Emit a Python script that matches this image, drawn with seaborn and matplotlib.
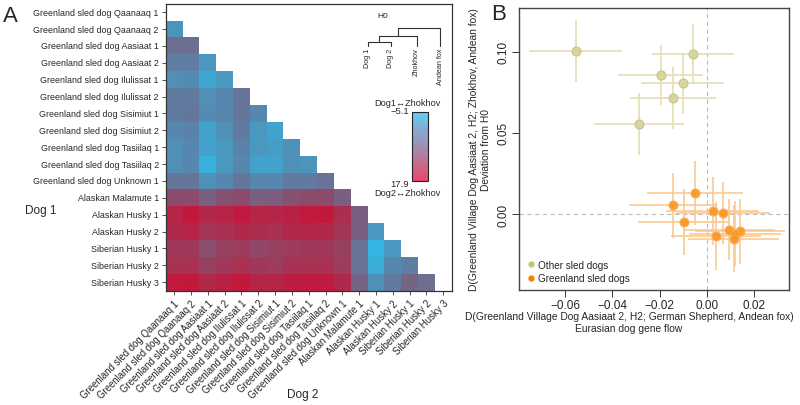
import numpy as np
import pandas as pd
import matplotlib
matplotlib.use("Agg")
import matplotlib.pyplot as plt
import seaborn as sns
from matplotlib.colors import LinearSegmentedColormap, Normalize
from matplotlib.cm import ScalarMappable
from matplotlib.lines import Line2D

# ---------------- data ----------------
dogs = [
    "Greenland sled dog Qaanaaq 1", "Greenland sled dog Qaanaaq 2",
    "Greenland sled dog Aasiaat 1", "Greenland sled dog Aasiaat 2",
    "Greenland sled dog Ilulissat 1", "Greenland sled dog Ilulissat 2",
    "Greenland sled dog Sisimiut 1", "Greenland sled dog Sisimiut 2",
    "Greenland sled dog Tasiilaq 1", "Greenland sled dog Tasiilaq 2",
    "Greenland sled dog Unknown 1", "Alaskan Malamute 1",
    "Alaskan Husky 1", "Alaskan Husky 2",
    "Siberian Husky 1", "Siberian Husky 2", "Siberian Husky 3",
]

# lower-triangle D values (row = Dog 1, columns = Dog 2 before it)
row_qaanaaq1 = []
row_qaanaaq2 = [-1.5]
row_aasiaat1 = [3.0, 3.0]
row_aasiaat2 = [1.0, 1.0, -2.0]
row_ilulissat1 = [-1.0, -0.5, -3.5, -2.0]
row_ilulissat2 = [1.5, 1.5, -1.0, 0.0, 2.5]
row_sisimiut1 = [1.5, 2.0, -0.5, 0.0, 2.0, 0.0]
row_sisimiut2 = [0.0, 0.5, -3.0, -1.0, 1.5, -2.0, -3.0]
row_tasiilaq1 = [-1.0, 0.0, -3.0, -2.0, 0.5, -2.0, -2.5, -1.0]
row_tasiilaq2 = [-1.0, 0.0, -4.5, -2.0, 0.0, -3.0, -3.0, -1.0, -1.5]
row_unknown1 = [2.0, 2.0, -1.0, 0.0, 2.0, 0.0, 0.0, 1.5, 1.5, 2.5]
row_malamute1 = [8.0, 8.0, 5.0, 7.0, 8.0, 5.0, 5.5, 7.0, 8.0, 8.0, 5.0]
row_akhusky1 = [15.0, 17.5, 14.0, 15.0, 17.0, 15.0, 14.5, 15.5, 17.0, 17.5, 13.0, 5.0]
row_akhusky2 = [14.0, 15.0, 11.5, 12.5, 14.0, 13.0, 12.5, 14.0, 14.5, 14.0, 11.5, 5.0, -2.0]
row_sibhusky1 = [11.0, 11.0, 7.5, 9.5, 10.5, 8.5, 9.5, 10.5, 11.0, 11.0, 9.5, 2.5, -5.0, -2.0]
row_sibhusky2 = [12.5, 12.5, 9.5, 11.0, 12.5, 11.0, 10.5, 12.0, 12.5, 12.5, 10.5, 2.5, -4.0, 0.0, 1.0]
row_sibhusky3 = [17.0, 17.5, 14.0, 15.5, 17.5, 15.0, 14.5, 16.5, 17.0, 17.0, 14.0, 4.5, -1.0, 1.5, 4.5, 3.0]

tri_rows = [row_qaanaaq1, row_qaanaaq2, row_aasiaat1, row_aasiaat2,
            row_ilulissat1, row_ilulissat2, row_sisimiut1, row_sisimiut2,
            row_tasiilaq1, row_tasiilaq2, row_unknown1, row_malamute1,
            row_akhusky1, row_akhusky2, row_sibhusky1, row_sibhusky2,
            row_sibhusky3]
d_min, d_max = -5.1, 17.9

# panel B
other_x = [-0.0555, -0.0059, -0.0196, -0.0103, -0.0144, -0.0288]
other_y = [0.1004, 0.0984, 0.0859, 0.0804, 0.0713, 0.0555]
other_xerr = [0.0197, 0.0174, 0.0179, 0.0175, 0.0182, 0.0190]
other_yerr = [0.0190, 0.0184, 0.0185, 0.0190, 0.0192, 0.0193]

green_x = [-0.0049, -0.0144, 0.0024, 0.0068, -0.0097, 0.0093, 0.0138, 0.0118, 0.0039, 0.0113]
green_y = [0.0129, 0.0055, 0.0020, 0.0006, -0.0049, -0.0096, -0.0105, -0.0121, -0.0133, -0.0152]
green_xerr = [0.0203, 0.0186, 0.0196, 0.0197, 0.0195, 0.0195, 0.0190, 0.0195, 0.0190, 0.0192]
green_yerr = [0.0195, 0.0200, 0.0210, 0.0190, 0.0205, 0.0190, 0.0200, 0.0200, 0.0210, 0.0205]

xticks_b = [-0.06, -0.04, -0.02, 0.00, 0.02]
xticklabels_b = ["\u22120.06", "\u22120.04", "\u22120.02", "0.00", "0.02"]
yticks_b = [0.00, 0.05, 0.10]
yticklabels_b = ["0.00", "0.05", "0.10"]

# ---------------- style ----------------
sns.set_style("ticks")
plt.rcParams["font.family"] = ["Liberation Sans", "DejaVu Sans"]
plt.rcParams["axes.edgecolor"] = "#333333"

W, H = 800, 406
fig = plt.figure(figsize=(W / 100, H / 100), dpi=100)


def fx(px):
    return px / W


def fy(py):
    return 1 - py / H


# ---------------- panel A heatmap ----------------
n = len(dogs)
M = np.full((n, n), np.nan)
for i, r in enumerate(tri_rows):
    M[i, :len(r)] = r
df = pd.DataFrame(M, index=dogs, columns=dogs)
mask = np.isnan(M)

cmap = LinearSegmentedColormap.from_list(
    "dz",
    [(0.0, "#33B6E2"), (0.135, "#4A98C0"), (0.265, "#5E7EA4"),
     (0.44, "#7A6080"), (0.613, "#944464"), (0.787, "#AC2E4E"),
     (1.0, "#C4163A")])

axA = fig.add_axes([fx(165.7), fy(291.7), fx(451.7 - 165.7), (291.7 - 4.7) / H])
sns.heatmap(df, mask=mask, cmap=cmap, vmin=d_min, vmax=d_max, cbar=False,
            ax=axA, xticklabels=dogs, yticklabels=dogs, linewidths=0)
for s in axA.spines.values():
    s.set_visible(True)
    s.set_linewidth(0.9)
    s.set_color("#333333")
axA.set_xlabel("")
axA.set_ylabel("")
axA.tick_params(axis="both", length=3, width=0.6, color="#333333",
                labelsize=6.4, pad=2, bottom=True, left=True)
axA.set_yticklabels(dogs, rotation=0, fontsize=6.4)
axA.set_xticklabels(dogs, rotation=45, ha="right", va="top",
                    rotation_mode="anchor", fontsize=6.9)

# overlay for annotations in pixel coordinates
ov = fig.add_axes([0, 0, 1, 1], zorder=10)
ov.set_xlim(0, W)
ov.set_ylim(H, 0)
ov.axis("off")
ov.patch.set_alpha(0)

ov.text(3, 17, "A", fontsize=16, ha="left", va="center")
ov.text(499, 15, "B", fontsize=16, ha="center", va="center")
ov.text(41, 211, "Dog 1", fontsize=8.5, ha="center", va="center")
ov.text(303, 395, "Dog 2", fontsize=8.5, ha="center", va="center")

# tree H0
tc = "#333333"
lw = 0.8
tip_y = 46.5
d1x, d2x, zx, fxp = 367.7, 390.7, 416.7, 440.0
j1y, j2y, j3y = 43.3, 36.7, 29.0
m1 = (d1x + d2x) / 2
m2 = (m1 + zx) / 2
ov.plot([d1x, d1x, d2x, d2x], [tip_y, j1y, j1y, tip_y], color=tc, lw=lw)
ov.plot([m1, m1], [j1y, j2y], color=tc, lw=lw)
ov.plot([m1, zx, zx], [j2y, j2y, tip_y], color=tc, lw=lw)
ov.plot([m2, m2], [j2y, j3y], color=tc, lw=lw)
ov.plot([m2, fxp, fxp], [j3y, j3y, tip_y], color=tc, lw=lw)
ov.text(383, 17, "H0", fontsize=6, ha="center", va="center")
for xx, lab in [(d1x, "Dog 1"), (d2x, "Dog 2"), (zx, "Zhokhov"), (fxp, "Andean fox")]:
    ov.text(xx, tip_y + 2, lab, fontsize=5.2, rotation=90, ha="center", va="top")

# colorbar
cmap_light = LinearSegmentedColormap.from_list(
    "dzl", ["#5CD2F2", "#86A8D2", "#A08EB0", "#C86A8A", "#EA4668"])
cax = fig.add_axes([fx(412.3), fy(182.3), (427.7 - 412.3) / W, (182.3 - 113.3) / H])
cb = fig.colorbar(ScalarMappable(norm=Normalize(d_min, d_max), cmap=cmap_light), cax=cax)
cb.set_ticks([])
cax.invert_yaxis()
cb.outline.set_linewidth(0.8)
cb.outline.set_edgecolor("#222222")
ov.text(407, 103, "Dog1\u2194Zhokhov", fontsize=6.6, ha="center", va="center")
ov.text(409, 111, "\u22125.1", fontsize=6.8, ha="right", va="center")
ov.text(409, 185, "17.9", fontsize=6.8, ha="right", va="center")
ov.text(407, 193.5, "Dog2\u2194Zhokhov", fontsize=6.6, ha="center", va="center")

# ---------------- panel B ----------------
axB = fig.add_axes([fx(519), fy(290.7), (789 - 519) / W, (290.7 - 9.3) / H])
axB.axvline(0, color="#BBBBBB", ls=(0, (4, 3)), lw=0.8, zorder=1)
axB.axhline(0, color="#BBBBBB", ls=(0, (4, 3)), lw=0.8, zorder=1)

axB.errorbar(other_x, other_y, xerr=other_xerr, yerr=other_yerr, fmt="none",
             ecolor="#E4E0B8", elinewidth=1.3, capsize=0, zorder=2)
axB.errorbar(green_x, green_y, xerr=green_xerr, yerr=green_yerr, fmt="none",
             ecolor="#FBC890", elinewidth=1.3, capsize=0, alpha=0.9, zorder=2)
sns.scatterplot(x=other_x, y=other_y, ax=axB, color="#D8D49E", edgecolor="#C9C48A",
                linewidth=0.8, s=42, zorder=3, legend=False)
sns.scatterplot(x=green_x, y=green_y, ax=axB, color="#F8951F", edgecolor="#F7AE5C",
                linewidth=0.8, s=42, alpha=0.9, zorder=3, legend=False)

axB.set_xlim(-0.0795, 0.0347)
axB.set_ylim(-0.0466, 0.1267)
axB.set_xticks(xticks_b)
axB.set_xticklabels(xticklabels_b, fontsize=8.5)
axB.set_yticks(yticks_b)
axB.set_yticklabels(yticklabels_b, fontsize=8.5, rotation=90, va="center")
axB.tick_params(axis="both", length=5, width=0.7, color="#333333", pad=2)
for s in axB.spines.values():
    s.set_visible(True)
    s.set_linewidth(1.0)
    s.set_color("#444444")

handles = [
    Line2D([], [], marker="o", ls="", color="#C9C46E", markersize=3.5),
    Line2D([], [], marker="o", ls="", color="#F77F00", markersize=3.5),
]
axB.legend(handles, ["Other sled dogs", "Greenland sled dogs"], loc="lower left",
           frameon=False, fontsize=7.2, handletextpad=0.3, borderaxespad=0.25,
           handlelength=1.0, labelspacing=0.35)

ov.text(629, 323, "D(Greenland Village Dog Aasiaat 2, H2; German Shepherd, Andean fox)\nEurasian dog gene flow",
        fontsize=7.4, ha="center", va="center", linespacing=1.15)
ov.text(480, 150, "D(Greenland Village Dog Aasiaat 2, H2; Zhokhov, Andean fox)\nDeviation from H0",
        fontsize=7.4, ha="center", va="center", rotation=90, linespacing=1.15)

fig.savefig("out.png", dpi=100)
